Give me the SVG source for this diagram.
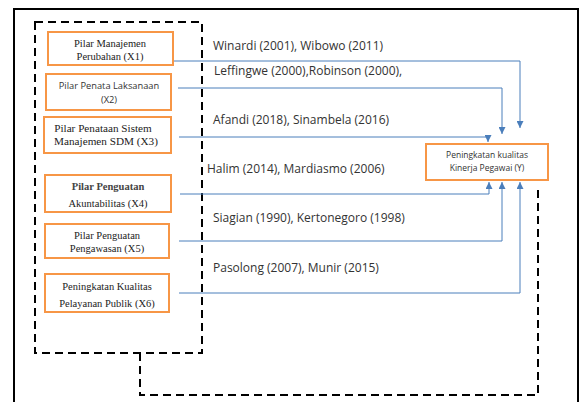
<svg xmlns="http://www.w3.org/2000/svg" width="581" height="402" viewBox="0 0 581 402">
<defs>
<marker id="ah" viewBox="0 0 10 10" refX="10" refY="5" markerWidth="7" markerHeight="7" markerUnits="userSpaceOnUse" orient="auto">
<path d="M0,0 L10,5 L0,10 Z" fill="#4a7ebb"/>
</marker>
<style>
.box{fill:#fff;stroke:#f79646;stroke-width:2}
.dash{fill:none;stroke:#000;stroke-width:2;stroke-dasharray:8,5}
.con{fill:none;stroke:#4a7ebb;stroke-width:1;marker-end:url(#ah)}
.lbl{font-family:"Open Sans","Liberation Sans",sans-serif;font-size:12px;fill:#333}
.ser{font-family:"Liberation Serif","DejaVu Serif",serif;font-size:10.5px;fill:#222;text-anchor:middle}
.san{font-family:"Open Sans","Liberation Sans",sans-serif;font-size:9.3px;fill:#333;text-anchor:middle}
</style>
</defs>
<rect width="581" height="402" fill="#fff"/>
<rect x="14" y="9" width="564" height="400" fill="none" stroke="#000" stroke-width="2"/>
<g id="frame">
<path class="dash" d="M35,22 H202 V353 H35 Z"/>
<path class="dash" d="M140,353 V395 H538 V187"/>
</g>
<g id="connectors">
<path class="con" d="M173,61 H520 V128"/>
<path class="con" d="M178,88 H502 V134"/>
<path class="con" d="M179,137 H488 V142"/>
<path class="con" d="M180,194 H489 V182"/>
<path class="con" d="M179,241 H502 V182"/>
<path class="con" d="M179,293 H520 V182"/>
<text class="lbl" x="213" y="50">Winardi (2001), Wibowo (2011)</text>
<text class="lbl" x="214" y="75">Leffingwe (2000),Robinson (2000),</text>
<text class="lbl" x="213" y="124">Afandi (2018), Sinambela (2016)</text>
<text class="lbl" x="207" y="173">Halim (2014), Mardiasmo (2006)</text>
<text class="lbl" x="213" y="222">Siagian (1990), Kertonegoro (1998)</text>
<text class="lbl" x="213" y="272">Pasolong (2007), Munir (2015)</text>
</g>
<g id="x1">
<rect class="box" x="48" y="32" width="125" height="33"/>
<text class="ser" x="110" y="47">Pilar Manajemen</text>
<text class="ser" x="110" y="60">Perubahan (X1)</text>
</g>
<g id="x2">
<rect class="box" x="46" y="74" width="125" height="36"/>
<text class="san" x="109" y="89">Pilar Penata Laksanaan</text>
<text class="san" x="109" y="103">(X2)</text>
</g>
<g id="x3">
<rect class="box" x="44" y="117" width="127" height="36"/>
<text class="ser" x="103" y="132" style="font-size:11.2px">Pilar Penataan Sistem</text>
<text class="ser" x="106" y="145" style="font-size:11.2px">Manajemen SDM (X3)</text>
</g>
<g id="x4">
<rect class="box" x="45" y="175" width="126" height="37"/>
<text class="ser" x="108" y="190" style="font-weight:bold;fill:#444">Pilar Penguatan</text>
<text class="ser" x="108" y="207">Akuntabilitas (X4)</text>
</g>
<g id="x5">
<rect class="box" x="45" y="224" width="124" height="34"/>
<text class="ser" x="107" y="239">Pilar Penguatan</text>
<text class="ser" x="107" y="252">Pengawasan (X5)</text>
</g>
<g id="x6">
<rect class="box" x="45" y="274" width="124" height="38"/>
<text class="ser" x="107" y="290">Peningkatan Kualitas</text>
<text class="ser" x="107" y="307">Pelayanan Publik (X6)</text>
</g>
<g id="y">
<rect class="box" x="426" y="144" width="122" height="36"/>
<text class="san" x="487" y="158" style="font-size:8.5px">Peningkatan kualitas</text>
<text class="san" x="487" y="171" style="font-size:8.5px">Kinerja Pegawai (Y)</text>
</g>
</svg>
